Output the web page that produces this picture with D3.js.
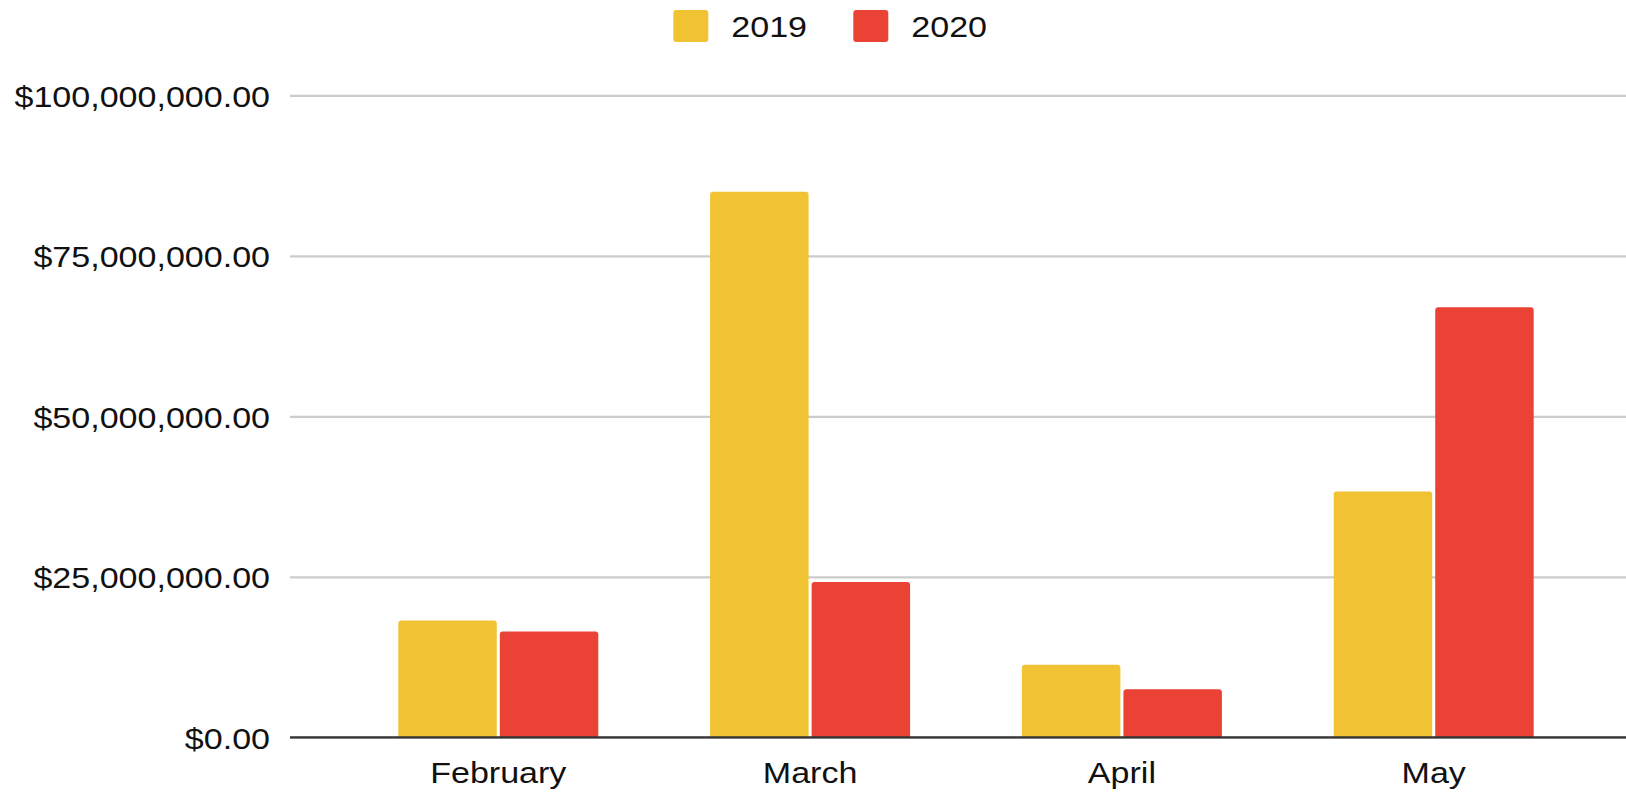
<!DOCTYPE html>
<html>
<head>
<meta charset="utf-8">
<script src="https://cdn.jsdelivr.net/npm/d3@7"></script>
<style>
  html, body { margin: 0; padding: 0; background: #fff; }
  svg { display: block; }
  text { font-family: "Liberation Sans", Arial, sans-serif; fill: #111; }
</style>
</head>
<body>
<svg id="chart" width="1626" height="792"></svg>
<script>
const categories = ["February", "March", "April", "May"];
const seriesNames = ["2019", "2020"];
const values2019 = [18200000, 85000000, 11300000, 38300000];
const values2020 = [16500000, 24200000, 7500000, 67000000];
const yTicks = [0, 25000000, 50000000, 75000000, 100000000];
const colors = ["#f1c232", "#ea4335"];

const seriesValues = [values2019, values2020];
const data = categories.map((c, i) => ({
  cat: c,
  vals: seriesNames.map((s, j) => ({ key: s, value: seriesValues[j][i], color: colors[j] }))
}));

const plotLeft = 290, plotRight = 1626;
const yTop = 95.4, yBottom = 737.3;
const sx = 1.135; // horizontal text stretch seen in reference

const svg = d3.select("#chart");

const y = d3.scaleLinear().domain([0, 100000000]).range([yBottom, yTop]);
const x0 = d3.scaleBand().domain(categories).range([342.4, 1589.6])
  .paddingInner(0.3586).paddingOuter(0.1793);
const x1 = d3.scaleBand().domain(seriesNames).range([0, x0.bandwidth()]).paddingInner(0.03);

const fmt = v => "$" + d3.format(",.2f")(v);

// y axis with gridlines
const yAxis = svg.append("g")
  .attr("transform", `translate(${plotLeft},0)`)
  .call(d3.axisLeft(y).tickValues(yTicks).tickFormat(fmt).tickSize(-(plotRight - plotLeft)).tickPadding(20));
yAxis.select(".domain").remove();
yAxis.selectAll(".tick line").attr("stroke", "#cccccc").attr("stroke-width", 2.2);
yAxis.selectAll(".tick text")
  .attr("x", 0)
  .attr("dy", "0.36em")
  .attr("transform", "translate(-20,0) scale(" + sx + ",1)")
  .style("font-size", "30px")
  .attr("fill", "#111");

// bars
const groups = svg.append("g").selectAll("g")
  .data(data).join("g")
  .attr("transform", d => `translate(${x0(d.cat)},0)`);

groups.selectAll("path")
  .data(d => d.vals).join("path")
  .attr("fill", d => d.color)
  .attr("d", d => {
    const xl = x1(d.key), w = x1.bandwidth();
    const yt = y(d.value), yb = y(0), r = 3;
    return `M${xl},${yb} L${xl},${yt + r} Q${xl},${yt} ${xl + r},${yt} L${xl + w - r},${yt} Q${xl + w},${yt} ${xl + w},${yt + r} L${xl + w},${yb} Z`;
  });

// baseline
svg.append("line")
  .attr("x1", plotLeft).attr("x2", plotRight)
  .attr("y1", y(0)).attr("y2", y(0))
  .attr("stroke", "#333").attr("stroke-width", 2.2);

// x labels
svg.append("g").selectAll("text")
  .data(categories).join("text")
  .attr("text-anchor", "middle")
  .attr("transform", d => `translate(${x0(d) + x0.bandwidth() / 2},783) scale(${sx},1)`)
  .style("font-size", "30px")
  .text(d => d);

// legend
const legendItems = [
  { name: seriesNames[0], color: colors[0], x: 673.3 },
  { name: seriesNames[1], color: colors[1], x: 853.3 }
];
const lg = svg.append("g").selectAll("g").data(legendItems).join("g")
  .attr("transform", d => `translate(${d.x},0)`);
lg.append("rect")
  .attr("x", 0).attr("y", 10).attr("width", 35).attr("height", 32)
  .attr("rx", 3).attr("fill", d => d.color);
lg.append("text")
  .attr("transform", `translate(58,36.5) scale(${sx},1)`)
  .style("font-size", "30px")
  .text(d => d.name);
</script>
</body>
</html>
